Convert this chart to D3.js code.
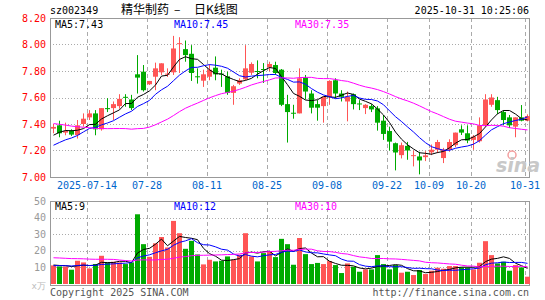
<!DOCTYPE html>
<html>
<head>
<meta charset="utf-8">
<script src="https://cdn.jsdelivr.net/npm/d3@7/dist/d3.min.js"></script>
<style>
  body { margin: 0; background: #fff; }
  svg { display: block; }
  text { font-family: "DejaVu Sans Mono", monospace; font-size: 10px; }
</style>
</head>
<body>
<svg width="545" height="300"></svg>
<script>
// trading days shown (MM-DD, 2025)
const dates = [
  '07-04','07-07','07-08','07-09','07-10','07-11','07-14','07-15','07-16','07-17',
  '07-18','07-21','07-22','07-23','07-24','07-25','07-28','07-29','07-30','07-31',
  '08-01','08-04','08-05','08-06','08-07','08-08','08-11','08-12','08-13','08-14',
  '08-15','08-18','08-19','08-20','08-21','08-22','08-25','08-26','08-27','08-28',
  '08-29','09-01','09-02','09-03','09-04','09-05','09-08','09-09','09-10','09-11',
  '09-12','09-15','09-16','09-17','09-18','09-19','09-22','09-23','09-24','09-25',
  '09-26','09-29','09-30','10-09','10-10','10-13','10-14','10-15','10-16','10-17',
  '10-20','10-21','10-22','10-23','10-24','10-27','10-28','10-29','10-30','10-31'
];

const open = [
  7.365,7.39,7.335,7.35,7.317,7.40,7.45,7.48,7.36,7.52,
  7.52,7.535,7.605,7.585,7.775,7.795,7.70,7.757,7.79,7.775,
  7.79,8.005,7.965,7.93,7.76,7.727,7.757,7.825,7.78,7.76,
  7.635,7.705,7.737,7.787,7.80,7.815,7.828,7.845,7.81,7.55,
  7.485,7.48,7.75,7.63,7.55,7.535,7.605,7.73,7.63,7.57,
  7.625,7.555,7.52,7.535,7.518,7.425,7.347,7.255,7.165,7.235,
  7.158,7.155,7.15,7.186,7.206,7.143,7.206,7.24,7.36,7.33,
  7.28,7.27,7.39,7.545,7.58,7.49,7.45,7.38,7.45,7.425
];
const high = [
  7.40,7.425,7.41,7.36,7.43,7.48,7.505,7.505,7.52,7.595,
  7.57,7.625,7.625,7.62,7.92,7.845,7.725,7.863,7.858,7.82,
  8.065,8.055,8.03,7.995,7.82,7.81,7.85,7.91,7.81,7.795,
  7.695,7.745,7.995,7.865,7.88,7.86,7.87,7.87,7.815,7.62,
  7.545,7.82,7.77,7.655,7.58,7.605,7.73,7.745,7.655,7.645,
  7.63,7.58,7.55,7.55,7.535,7.468,7.38,7.26,7.26,7.265,
  7.20,7.19,7.195,7.245,7.28,7.22,7.285,7.335,7.39,7.39,
  7.317,7.45,7.625,7.625,7.605,7.505,7.468,7.45,7.543,7.473
];
const low = [
  7.33,7.30,7.315,7.31,7.29,7.38,7.43,7.315,7.35,7.49,
  7.43,7.515,7.53,7.505,7.63,7.645,7.695,7.655,7.77,7.755,
  7.77,7.785,7.87,7.725,7.705,7.68,7.73,7.73,7.68,7.62,
  7.545,7.695,7.73,7.77,7.745,7.71,7.80,7.77,7.535,7.26,
  7.44,7.48,7.585,7.48,7.425,7.41,7.545,7.595,7.57,7.42,
  7.51,7.505,7.475,7.49,7.35,7.28,7.20,7.05,7.14,7.13,
  7.08,7.02,7.12,7.165,7.18,7.105,7.19,7.225,7.317,7.255,
  7.205,7.26,7.38,7.53,7.475,7.39,7.37,7.30,7.42,7.42
];
const close = [
  7.378,7.33,7.347,7.32,7.39,7.44,7.48,7.36,7.52,7.512,
  7.55,7.59,7.60,7.52,7.75,7.655,7.725,7.82,7.858,7.78,
  7.97,8.01,7.92,7.785,7.755,7.775,7.81,7.775,7.775,7.635,
  7.685,7.73,7.82,7.853,7.795,7.81,7.853,7.785,7.545,7.49,
  7.48,7.745,7.645,7.523,7.523,7.605,7.725,7.63,7.605,7.605,
  7.55,7.55,7.545,7.51,7.41,7.325,7.267,7.185,7.24,7.20,
  7.165,7.125,7.163,7.206,7.264,7.206,7.264,7.335,7.335,7.275,
  7.305,7.39,7.585,7.60,7.505,7.43,7.39,7.45,7.425,7.46
];
// volume, 万手
const volume = [
  11.2,10.6,10.5,8.6,14.0,13.0,9.4,12.0,17.0,13.0,
  13.4,13.0,12.0,13.0,42.0,24.0,16.4,24.5,28.3,22.0,
  38.0,30.6,21.2,26.0,17.8,11.8,14.6,13.6,14.0,16.6,
  14.6,17.6,30.6,16.6,13.6,18.6,19.6,16.2,27.2,24.0,
  11.6,27.7,18.0,12.0,12.7,12.0,13.8,11.4,6.6,12.4,
  10.4,7.4,8.8,8.8,17.4,12.0,8.8,11.4,6.8,7.4,
  5.4,8.4,6.0,8.0,9.8,9.2,10.8,10.8,10.0,10.0,
  8.8,12.8,25.8,17.4,12.4,13.4,8.0,11.4,10.0,4.4
];
// the 29 sessions before the window, needed for the moving averages
const priorClose = [
  7.50,7.52,7.55,7.53,7.56,7.58,7.54,7.52,7.55,7.53,
  7.58,7.62,7.65,7.63,7.60,7.42,7.30,7.22,7.15,7.15,
  7.12,7.15,7.18,7.20,7.17,7.22,7.28,7.33,7.37
];
const priorVolume = [
  15,16,14,15,16,15,15,16,14,15.5,
  24,22,20,25,21,19,23,20,18,20.7,
  10,11,10.5,11,10.5,12,11,11.5,11.5
];

const priceTicks = [7.00, 7.20, 7.40, 7.60, 7.80, 8.00, 8.20];
const volTicks = [10, 20, 30, 40, 50];
const dateTicks = ['07-14','07-28','08-11','08-25','09-08','09-22','10-09','10-20','10-31'];

const maPriceText = ['MA5:7.43', 'MA10:7.45', 'MA30:7.35'];
const maVolText = ['MA5:9', 'MA10:12', 'MA30:10'];
const maColors = ['#000000', '#0000ff', '#ff00ff'];

const RED = '#ff5555', GREEN = '#00aa00', GRID = '#aaaaaa';

const svg = d3.select('svg');

const x = d3.scaleBand().domain(d3.range(dates.length)).range([50, 530]);
const cx = i => x(i) + 3.5;
const yP = d3.scaleLinear().domain([7.0, 8.2]).range([177, 18]);
const yV = d3.scaleLinear().domain([0, 50]).range([284, 201]);

function movingAvg(prior, vals, n) {
  const all = prior.concat(vals);
  const off = prior.length;
  return vals.map((v, i) => d3.mean(all.slice(off + i - n + 1, off + i + 1)));
}

// header
svg.append('text').attr('x', 50).attr('y', 14).text('sz002349');
const title = svg.append('text').attr('y', 14)
    .style('font-family', '"Noto Sans CJK SC", sans-serif').style('font-size', '12px');
title.append('tspan').attr('x', 121).text('精华制药');
title.append('tspan').attr('x', 174).text('–');
title.append('tspan').attr('x', 194).text('日K线图');
svg.append('text').attr('x', 529).attr('y', 14).attr('text-anchor', 'end')
    .text('2025-10-31 10:25:06');

// grid
const tickIdx = dateTicks.map(d => dates.indexOf(d));
function grid(yScale, vals, top, bottom) {
  svg.append('g').selectAll('line').data(vals).enter().append('line')
      .attr('x1', 50).attr('x2', 529)
      .attr('y1', d => Math.round(yScale(d)) + 0.5).attr('y2', d => Math.round(yScale(d)) + 0.5)
      .attr('stroke', GRID).attr('stroke-dasharray', '1,2');
  svg.append('g').selectAll('line').data(tickIdx).enter().append('line')
      .attr('x1', i => x(i) + 1.5).attr('x2', i => x(i) + 1.5)
      .attr('y1', top).attr('y2', bottom)
      .attr('stroke', GRID).attr('stroke-dasharray', '4,3');
}
grid(yP, priceTicks.slice(1, -1), 18, 177);
grid(yV, volTicks.slice(0, -1), 201, 284);

// frames
svg.append('rect').attr('x', 50.5).attr('y', 18.5).attr('width', 479).attr('height', 159)
    .attr('fill', 'none').attr('stroke', '#999');
svg.append('rect').attr('x', 50.5).attr('y', 201.5).attr('width', 479).attr('height', 84)
    .attr('fill', 'none').attr('stroke', '#999');

// watermark
svg.append('circle').attr('cx', 512).attr('cy', 155).attr('r', 4)
    .attr('fill', 'none').attr('stroke', '#f4a0a0').attr('stroke-width', 1.5);
svg.append('text').attr('x', 496).attr('y', 172)
    .style('font-family', 'DejaVu Sans, sans-serif').style('font-size', '19px')
    .style('font-style', 'italic').style('font-weight', 'bold')
    .attr('fill', '#c8c8c8').text('sina');

// axes labels
svg.append('g').selectAll('text').data(priceTicks).enter().append('text')
    .attr('x', 46).attr('y', d => yP(d)).attr('dy', '0.35em').attr('text-anchor', 'end')
    .attr('fill', '#ff0000').text(d3.format('.2f'));
svg.append('g').selectAll('text').data(volTicks).enter().append('text')
    .attr('x', 46).attr('y', d => yV(d)).attr('dy', '0.35em').attr('text-anchor', 'end')
    .attr('fill', '#999').text(d => d);
svg.append('text').attr('x', 46).attr('y', 289).attr('text-anchor', 'end')
    .attr('fill', '#bbb').style('font-size', '9px').text('x万');
svg.append('g').selectAll('text').data(tickIdx).enter().append('text')
    .attr('x', i => x(i) + 1).attr('y', 189).attr('text-anchor', 'middle')
    .attr('fill', '#0066cc').text((i, k) => k === 0 ? '2025-' + dates[i] : dates[i]);

// candles
const up = i => close[i] >= open[i];
const candles = svg.append('g').selectAll('g').data(d3.range(dates.length)).enter().append('g');
candles.append('line')
    .attr('x1', cx).attr('x2', cx)
    .attr('y1', i => yP(high[i])).attr('y2', i => yP(low[i]))
    .attr('stroke', i => up(i) ? RED : GREEN);
candles.append('rect')
    .attr('x', i => x(i) + 1).attr('width', 5)
    .attr('y', i => yP(Math.max(open[i], close[i])))
    .attr('height', i => Math.max(1, Math.abs(yP(open[i]) - yP(close[i]))))
    .attr('fill', i => up(i) ? RED : GREEN);

// volume bars
svg.append('g').selectAll('rect').data(d3.range(dates.length)).enter().append('rect')
    .attr('x', i => x(i) + 1).attr('width', 5)
    .attr('y', i => yV(volume[i])).attr('height', i => yV(0) - yV(volume[i]))
    .attr('fill', i => up(i) ? RED : GREEN);

// moving averages
[5, 10, 30].forEach((n, k) => {
  const mp = movingAvg(priorClose, close, n);
  const mv = movingAvg(priorVolume, volume, n);
  svg.append('path').attr('d', d3.line().x((d, i) => cx(i)).y(d => yP(d))(mp))
      .attr('fill', 'none').attr('stroke', maColors[k]);
  svg.append('path').attr('d', d3.line().x((d, i) => cx(i)).y(d => yV(d))(mv))
      .attr('fill', 'none').attr('stroke', maColors[k]);
});

// legends
const legendX = [55, 174, 295];
maPriceText.forEach((t, k) => svg.append('text').attr('x', legendX[k]).attr('y', 28)
    .attr('fill', maColors[k]).text(t));
maVolText.forEach((t, k) => svg.append('text').attr('x', legendX[k]).attr('y', 210)
    .attr('fill', maColors[k]).text(t));

// footer
svg.append('text').attr('x', 50).attr('y', 296).attr('fill', '#555').text('Copyright 2025 SINA.COM');
svg.append('text').attr('x', 529).attr('y', 296).attr('text-anchor', 'end')
    .attr('fill', '#555').text('http://finance.sina.com.cn');
</script>
</body>
</html>
